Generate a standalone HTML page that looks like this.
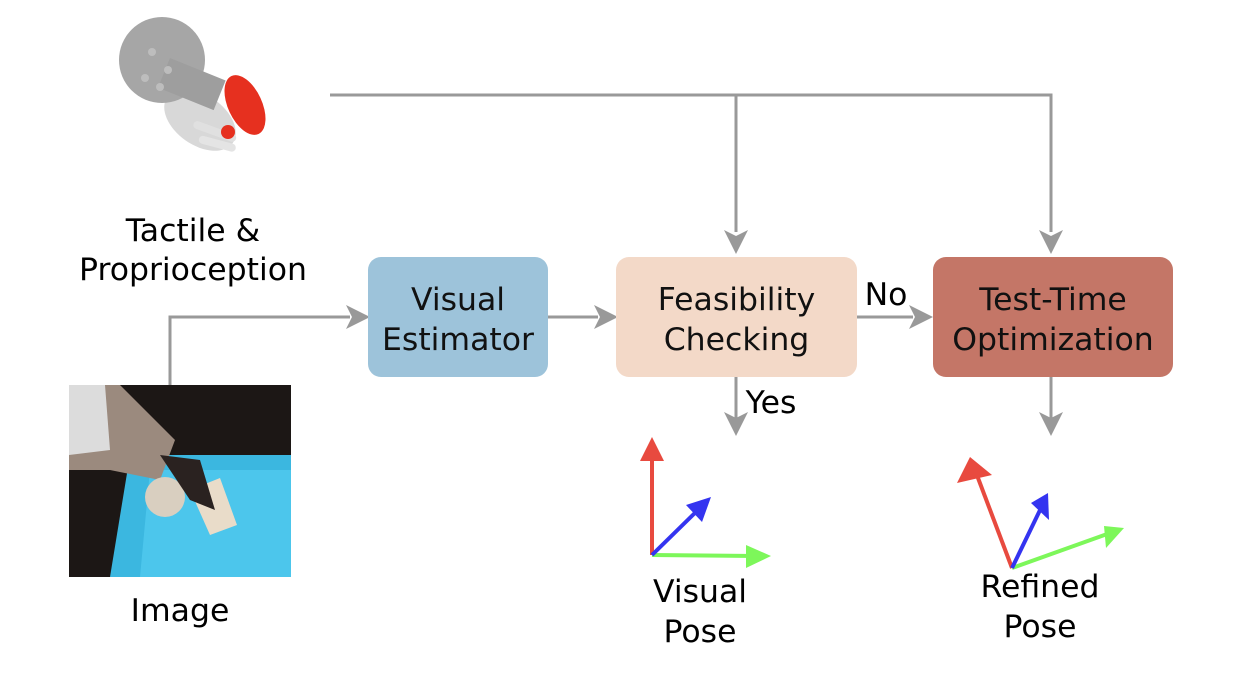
<!DOCTYPE html>
<html><head><meta charset="utf-8"><style>
html,body{margin:0;padding:0;background:#fff;}
body{width:1242px;height:686px;position:relative;overflow:hidden;font-family:"DejaVu Sans","Liberation Sans",sans-serif;}
.box{position:absolute;border-radius:13px;display:flex;align-items:center;justify-content:center;text-align:center;font-size:31.5px;line-height:40px;color:#111;box-sizing:border-box;padding-top:5px;}
.t{position:absolute;font-size:31.5px;line-height:40px;color:#000;text-align:center;white-space:nowrap;}
</style></head><body>
<svg width="1242" height="686" style="position:absolute;left:0;top:0">
<g stroke="#999" stroke-width="3" fill="none">
<path d="M330,95 H1051 V232"/>
<path d="M736,95 V232"/>
<path d="M170,385 V317 H350"/>
<path d="M548,317 H598"/>
<path d="M857,317 H913"/>
<path d="M736,377 V418"/>
<path d="M1051,377 V418"/>
</g>
<g fill="#999">
<path d="M724,230 L736,254 L748,230 L736,236z"/>
<path d="M1039,230 L1051,254 L1063,230 L1051,236z"/>
<path d="M346,305 L370,317 L346,329 L352,317z"/>
<path d="M594,305 L618,317 L594,329 L600,317z"/>
<path d="M909,305 L933,317 L909,329 L915,317z"/>
<path d="M724,412 L736,436 L748,412 L736,418z"/>
<path d="M1039,412 L1051,436 L1063,412 L1051,418z"/>
</g>
<g stroke-width="4">
<line x1="652" y1="555" x2="652" y2="452" stroke="#e84a3f"/>
<line x1="652" y1="555" x2="756" y2="556" stroke="#7df75a"/>
<line x1="652" y1="555" x2="700" y2="508" stroke="#3434f0"/>
<line x1="1012" y1="568" x2="975" y2="470" stroke="#e84a3f"/>
<line x1="1012" y1="568" x2="1110" y2="533" stroke="#7df75a"/>
<line x1="1012" y1="568" x2="1042" y2="506" stroke="#3434f0"/>
</g>
<path d="M640,461 L652,437 L664,461z" fill="#e84a3f"/>
<path d="M746,545 L771,556 L746,568z" fill="#7df75a"/>
<path d="M686,505 L711,497 L702,522z" fill="#3434f0"/>
<path d="M970,457 L957,483 L992,475z" fill="#e84a3f"/>
<path d="M1104,526 L1124,528 L1106,548z" fill="#7df75a"/>
<path d="M1031,503 L1048,493 L1049,520z" fill="#3434f0"/>
<g>
<ellipse cx="200" cy="120" rx="40" ry="25" fill="#d8d8d8" transform="rotate(35 200 120)"/>
<rect x="195" y="120" width="45" height="8" rx="4" fill="#e0e0e0" transform="rotate(20 195 120)"/>
<rect x="200" y="135" width="38" height="8" rx="4" fill="#e4e4e4" transform="rotate(15 200 135)"/>
<ellipse cx="245" cy="105" rx="17" ry="32" fill="#e6301f" transform="rotate(-25 245 105)"/>
<circle cx="228" cy="132" r="7" fill="#e6301f"/>
<circle cx="162" cy="60" r="43" fill="#a6a6a6"/>
<rect x="170" y="58" width="60" height="32" fill="#9e9e9e" transform="rotate(22 170 58)"/>
<circle cx="152" cy="52" r="4" fill="#bdbdbd"/><circle cx="145" cy="78" r="4" fill="#bdbdbd"/><circle cx="168" cy="70" r="4" fill="#bdbdbd"/><circle cx="160" cy="87" r="4" fill="#bdbdbd"/>
</g>
<rect x="69" y="385" width="222" height="192" fill="#1c1715"/>
<path d="M130,455 L291,455 L291,577 L110,577 z" fill="#3bb7e0"/>
<path d="M150,470 L291,470 L291,577 L140,577z" fill="#4cc6ec"/>
<path d="M69,385 L120,385 L175,440 L160,480 L110,470 L69,470z" fill="#9b8a7e"/>
<path d="M69,385 L105,385 L110,450 L69,455z" fill="#dcdcdc"/>
<circle cx="165" cy="497" r="20" fill="#d9cfc0"/>
<path d="M190,490 L220,478 L237,525 L210,535z" fill="#e9dcc9"/>
<path d="M160,455 L200,460 L215,510 L190,500z" fill="#2a2220"/>
</svg>
<div class="t" style="left:93px;top:211px;width:200px;">Tactile &amp;</div>
<div class="t" style="left:43px;top:250px;width:300px;">Proprioception</div>
<div class="t" style="left:80px;top:591px;width:200px;">Image</div>
<div class="box" style="left:368px;top:257px;width:180px;height:120px;background:#9dc3da;">Visual<br>Estimator</div>
<div class="box" style="left:616px;top:257px;width:241px;height:120px;background:#f3d9c8;">Feasibility<br>Checking</div>
<div class="box" style="left:933px;top:257px;width:240px;height:120px;background:#c47667;">Test-Time<br>Optimization</div>
<div class="t" style="left:858px;top:275px;width:56px;">No</div>
<div class="t" style="left:736px;top:383px;width:70px;">Yes</div>
<div class="t" style="left:610px;top:572px;width:180px;">Visual<br>Pose</div>
<div class="t" style="left:940px;top:567px;width:200px;">Refined<br>Pose</div>
</body></html>
